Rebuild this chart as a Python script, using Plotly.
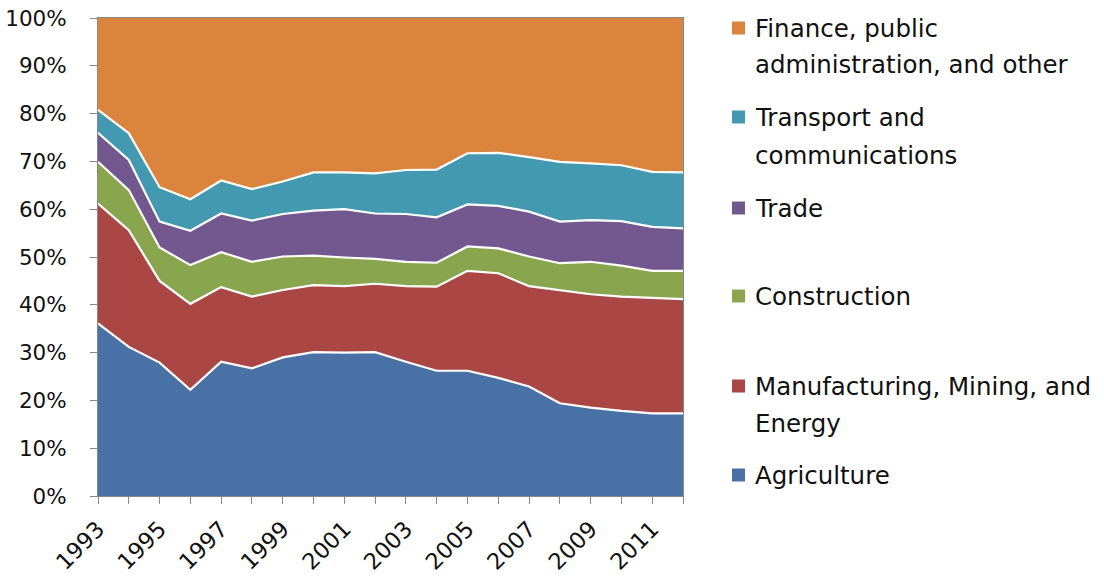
import plotly.graph_objects as go

years = list(range(1993, 2013))
year_labels = ["1993", "", "1995", "", "1997", "", "1999", "", "2001", "", "2003", "",
               "2005", "", "2007", "", "2009", "", "2011", ""]

agriculture = [36.1, 31.2, 27.9, 22.2, 28.1, 26.7, 29.0, 30.1, 30.0, 30.1,
               28.1, 26.2, 26.2, 24.7, 22.9, 19.4, 18.5, 17.8, 17.3, 17.3]
manufacturing = [25.1, 24.4, 17.1, 18.0, 15.6, 15.0, 14.1, 14.0, 13.9, 14.3,
                 15.8, 17.6, 20.9, 21.9, 21.0, 23.7, 23.7, 23.9, 24.1, 23.9]
construction = [8.7, 8.4, 7.0, 8.1, 7.3, 7.3, 7.0, 6.2, 6.0, 5.2,
                5.1, 5.0, 5.1, 5.2, 6.2, 5.6, 6.8, 6.5, 5.7, 5.9]
trade = [6.1, 6.3, 5.4, 7.2, 8.1, 8.6, 8.9, 9.4, 10.1, 9.5,
         10.0, 9.5, 8.8, 8.9, 9.4, 8.7, 8.7, 9.3, 9.2, 8.9]
transport = [4.8, 5.6, 7.2, 6.6, 6.9, 6.6, 6.8, 8.0, 7.7, 8.4,
             9.2, 10.0, 10.7, 11.1, 11.4, 12.5, 11.9, 11.7, 11.5, 11.7]
finance = [19.2, 24.1, 35.4, 37.9, 34.0, 35.8, 34.2, 32.3, 32.3, 32.5,
           31.8, 31.7, 28.3, 28.2, 29.1, 30.1, 30.4, 30.8, 32.2, 32.3]

series = [
    ("Agriculture", agriculture, "#4A71A6", ["Agriculture"]),
    ("Manufacturing, Mining, and Energy", manufacturing, "#AA4643", ["Manufacturing, Mining, and", "Energy"]),
    ("Construction", construction, "#89A54E", ["Construction"]),
    ("Trade", trade, "#73588F", ["Trade"]),
    ("Transport and communications", transport, "#4299B0", ["Transport and", "communications"]),
    ("Finance, public administration, and other", finance, "#DB843D", ["Finance, public", "administration, and other"]),
]

FONT = "DejaVu Sans"
fig = go.Figure()
for i, (name, vals, color, _) in enumerate(series):
    last = i == len(series) - 1
    fig.add_trace(go.Scatter(
        x=years, y=vals, name=name, mode="lines",
        stackgroup="one", groupnorm="percent",
        line=dict(color="white", width=0 if last else 2.2),
        fillcolor=color, showlegend=False,
        hoverinfo="x+y+name",
    ))

W, H = 1104, 579
# plot area in pixels
L, R, T, B = 98, 683, 18, 496

def px_x(px):
    return (px - L) / (R - L)

def px_y(py):
    return (B - py) / (B - T)

legend_rows = [
    ("Finance, public administration, and other", 28, [28, 65]),
    ("Transport and communications", 117, [117, 155]),
    ("Trade", 208, [208]),
    ("Construction", 296, [296]),
    ("Manufacturing, Mining, and Energy", 386, [386, 423]),
    ("Agriculture", 475, [475]),
]
colors = {s[0]: s[2] for s in series}
lines = {s[0]: s[3] for s in series}
shapes = []
annotations = []
for name, sq_y, text_ys in legend_rows:
    shapes.append(dict(type="rect", xref="paper", yref="paper",
                       x0=px_x(732), x1=px_x(745), y0=px_y(sq_y + 6.5), y1=px_y(sq_y - 6.5),
                       fillcolor=colors[name], line=dict(width=0)))
    for txt, ty in zip(lines[name], text_ys):
        annotations.append(dict(xref="paper", yref="paper", x=px_x(753), y=px_y(ty),
                                xanchor="left", yanchor="middle", showarrow=False,
                                text=txt, font=dict(family=FONT, size=24.5, color="#111111")))

fig.update_layout(
    width=W, height=H,
    margin=dict(l=L, r=W - R, t=T, b=H - B, autoexpand=False),
    paper_bgcolor="white", plot_bgcolor="white",
    showlegend=False,
    font=dict(family=FONT, size=22, color="#111111"),
    shapes=shapes, annotations=annotations,
    xaxis=dict(range=[1993, 2012], tickvals=years, ticktext=year_labels,
               tickangle=-45, ticks="outside", ticklen=7, tickcolor="#868686",
               showline=True, linecolor="#868686", linewidth=1, mirror=True,
               showgrid=False, zeroline=False, automargin=False,
               ticklabelstandoff=3, ticklabeloverflow="allow",
               tickfont=dict(family=FONT, size=22.5)),
    yaxis=dict(range=[0, 100], tickvals=[0, 10, 20, 30, 40, 50, 60, 70, 80, 90, 100],
               ticktext=["0%", "10%", "20%", "30%", "40%", "50%", "60%", "70%", "80%", "90%", "100%"],
               ticks="outside", ticklen=7, tickcolor="#868686",
               showline=True, linecolor="#868686", linewidth=1, mirror=True,
               showgrid=False, zeroline=False, ticklabelstandoff=19, automargin=False,
               ticklabeloverflow="allow",
               tickfont=dict(family=FONT, size=21.5)),
)

# remove the page's default 8px body margin so the figure fills the window
fig.write_html("out.html",
               config={"displayModeBar": False},
               post_script="document.body.style.margin='0';document.body.style.overflow='hidden';")
